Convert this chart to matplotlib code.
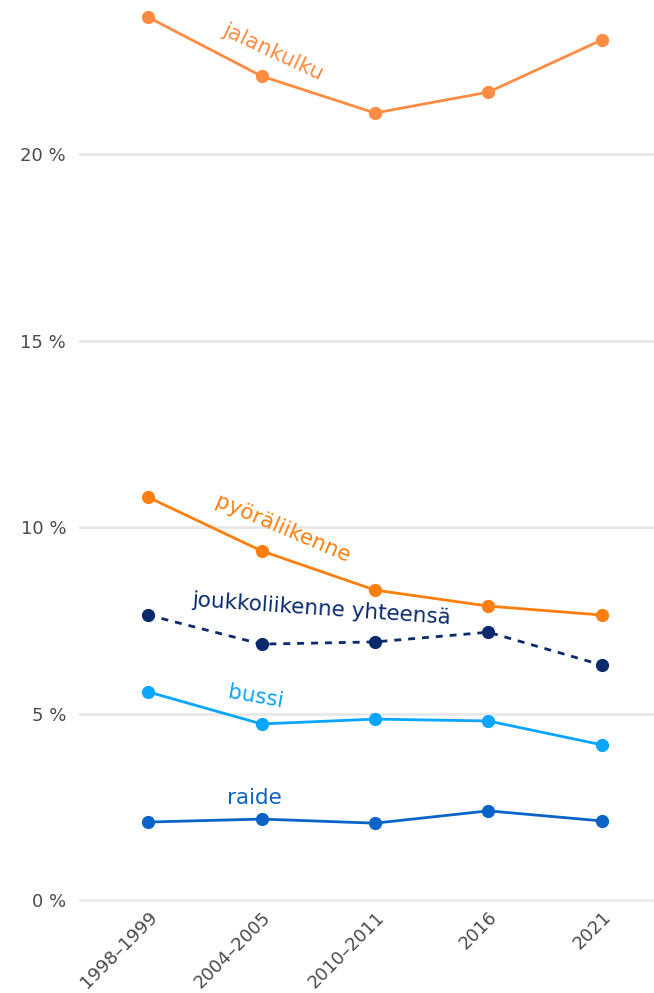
import numpy as np
import matplotlib.pyplot as plt

# Data (share of trips, %)
years = ['1998–1999', '2004–2005', '2010–2011', '2016', '2021']
jalankulku = [23.67, 22.09, 21.10, 21.66, 23.06]
pyoraliikenne = [10.80, 9.36, 8.31, 7.88, 7.64]
joukkoliikenne = [7.64, 6.86, 6.92, 7.18, 6.30]
bussi = [5.58, 4.72, 4.85, 4.80, 4.16]
raide = [2.09, 2.17, 2.06, 2.39, 2.12]

c_jalan = '#ff8c42'
c_pyora = '#ff7f0e'
c_jouk = '#0b2a6e'
c_bussi = '#0aa5ff'
c_raide = '#0a64c8'

fig = plt.figure(figsize=(6.54, 9.93), dpi=100)
ax = fig.add_axes([80 / 654, 93 / 993, 1 - 80 / 654, 1 - 93 / 993])
x = np.arange(len(years))

lw, ms = 2.0, 8.5
ax.plot(x, jalankulku, color=c_jalan, lw=lw, marker='o', ms=ms, zorder=3)
ax.plot(x, pyoraliikenne, color=c_pyora, lw=lw, marker='o', ms=ms, zorder=3)
ax.plot(x, joukkoliikenne, color=c_jouk, lw=lw, marker='o', ms=ms, zorder=3,
        linestyle=(0, (2.5, 2.5)))
ax.plot(x, bussi, color=c_bussi, lw=lw, marker='o', ms=ms, zorder=3)
ax.plot(x, raide, color=c_raide, lw=lw, marker='o', ms=ms, zorder=3)

# line labels
fs = 15.5
ax.text(1.1, 22.75, 'jalankulku', color=c_jalan, fontsize=fs, rotation=-25,
        ha='center', va='center')
ax.text(1.19, 9.95, 'pyöräliikenne', color=c_pyora, fontsize=fs, rotation=-23,
        ha='center', va='center')
ax.text(1.53, 7.8, 'joukkoliikenne yhteensä', color=c_jouk, fontsize=fs, rotation=-4,
        ha='center', va='center')
ax.text(0.95, 5.45, 'bussi', color=c_bussi, fontsize=fs, rotation=-10,
        ha='center', va='center')
ax.text(0.94, 2.73, 'raide', color=c_raide, fontsize=fs, rotation=0,
        ha='center', va='center')

ax.set_xlim(-0.6, 4.46)
ax.set_ylim(0, 24.13)
ax.set_yticks([0, 5, 10, 15, 20])
ax.set_yticklabels(['0 %', '5 %', '10 %', '15 %', '20 %'])
ax.set_xticks(x)
ax.set_xticklabels(years, rotation=45, ha='right', rotation_mode='anchor')
ax.tick_params(axis='both', length=0, labelsize=13, labelcolor='#4a4a4a')
ax.tick_params(axis='y', pad=10)
ax.tick_params(axis='x', pad=6)
ax.grid(axis='y', color='#e8e8e8', lw=2)
for gl in ax.get_ygridlines():
    gl.set_clip_on(False)
ax.set_axisbelow(True)
for s in ax.spines.values():
    s.set_visible(False)

fig.savefig('out.png', dpi=100)
